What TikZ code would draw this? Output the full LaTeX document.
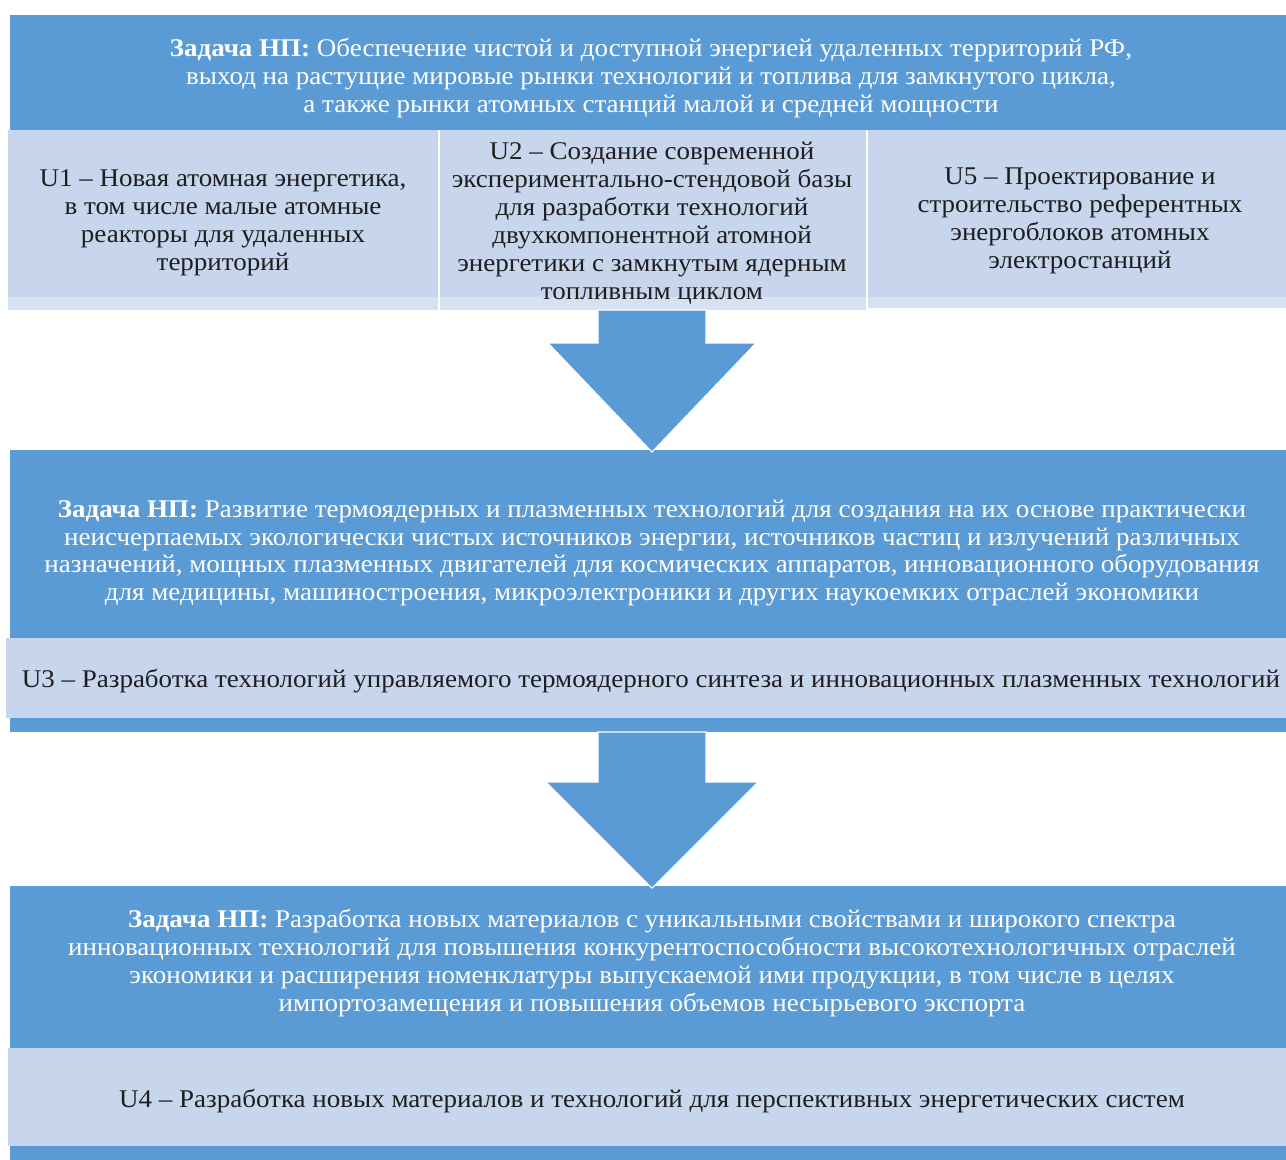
\documentclass[tikz,border=0pt]{standalone}
\usepackage{fontspec}
\setmainfont[FakeStretch=1.06]{Liberation Serif}
\usepackage{tikz}
\usetikzlibrary{positioning}
\definecolor{blueband}{RGB}{91,155,213}
\definecolor{lightband}{RGB}{199,214,236}
\definecolor{paleband}{RGB}{214,226,242}
\definecolor{inktext}{RGB}{30,30,30}

\begin{document}
\begin{tikzpicture}[
  x=0.02cm, y=-0.02cm,
  font=\fontsize{14.5}{15.9}\selectfont
]
\tikzset{
    tasktext/.style = {text=white, align=center, inner sep=0pt},
    goaltext/.style = {text=inktext, align=center, inner sep=0pt},
    bigarrow/.style = {fill=blueband, draw=white, line width=0.6pt},
}
\useasboundingbox (0,0) rectangle (1286,1160);

% bands
\fill[blueband] (10,15) rectangle (1286,130);
\fill[paleband] (8,130) rectangle (438,310);
\fill[lightband] (8,130) rectangle (438,297);
\fill[paleband] (440,130) rectangle (866,310);
\fill[lightband] (440,130) rectangle (866,297);
\fill[paleband] (868,130) rectangle (1286,308);
\fill[lightband] (868,130) rectangle (1286,297);
\fill[blueband] (10,450) rectangle (1286,638);
\fill[lightband] (6,638) rectangle (1286,718);
\fill[blueband] (10,718) rectangle (1286,732);
\fill[blueband] (10,886) rectangle (1286,1048);
\fill[lightband] (8,1048) rectangle (1286,1146);
\fill[blueband] (10,1146) rectangle (1286,1160);

% arrows
\draw[bigarrow] (598,310) -- (706,310) -- (706,343) -- (756,343) -- (652,452)
  -- (548,343) -- (598,343) -- cycle;
\draw[bigarrow] (598,732) -- (706,732) -- (706,782) -- (758,782) -- (652,888)
  -- (546,782) -- (598,782) -- cycle;

\node[tasktext] (task1) at (651,78) {\textbf{Задача НП:}\ Обеспечение чистой и доступной энергией удаленных территорий РФ,\\
  выход на растущие мировые рынки технологий и топлива для замкнутого цикла,\\
  а также рынки атомных станций малой и средней мощности};

\node[goaltext] (u1) at (223,223) {U1 – Новая атомная энергетика,\\ в том числе малые атомные\\ реакторы для удаленных\\ территорий};
\node[goaltext] (u2) at (652,223) {U2 – Создание современной\\ экспериментально-стендовой базы\\ для разработки технологий\\ двухкомпонентной атомной\\ энергетики с замкнутым ядерным\\ топливным циклом};
\node[goaltext] (u5) at (1080,221) {U5 – Проектирование и\\ строительство референтных\\ энергоблоков атомных\\ электростанций};

\node[tasktext] (task2) at (652,553) {\textbf{Задача НП:}\ Развитие термоядерных и плазменных технологий для создания на их основе практически\\
  неисчерпаемых экологически чистых источников энергии, источников частиц и излучений различных\\
  назначений, мощных плазменных двигателей для космических аппаратов, инновационного оборудования\\
  для медицины, машиностроения, микроэлектроники и других наукоемких отраслей экономики};
\node[goaltext] (u3) at (651,681) {U3 – Разработка технологий управляемого термоядерного синтеза и инновационных плазменных технологий};

\node[tasktext] (task3) at (652,963) {\textbf{Задача НП:}\ Разработка новых материалов с уникальными свойствами и широкого спектра\\
  инновационных технологий для повышения конкурентоспособности высокотехнологичных отраслей\\
  экономики и расширения номенклатуры выпускаемой ими продукции, в том числе в целях\\
  импортозамещения и повышения объемов несырьевого экспорта};
\node[goaltext] (u4) at (652,1101) {U4 – Разработка новых материалов и технологий для перспективных энергетических систем};

\end{tikzpicture}
\end{document}
